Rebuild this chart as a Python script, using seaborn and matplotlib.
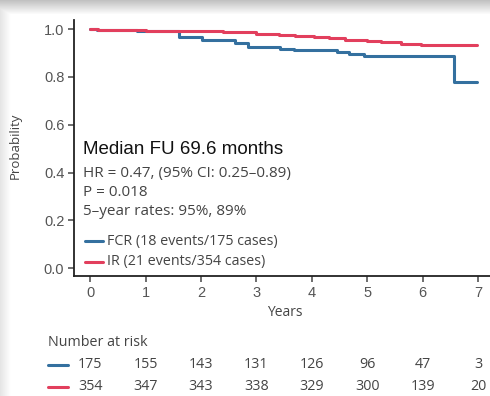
import numpy as np
import pandas as pd
import matplotlib
matplotlib.use("Agg")
import matplotlib.pyplot as plt
import matplotlib.transforms as mtransforms
from matplotlib.lines import Line2D
import seaborn as sns

# Kaplan-Meier step estimates (years, survival probability)
fcr_time = [0.0, 0.12, 0.85, 1.6, 2.02, 2.62, 2.84, 3.43, 3.67, 4.46, 4.67, 4.94, 6.56, 6.98]
fcr_surv = [1.0, 0.995, 0.99, 0.967, 0.954, 0.94, 0.926, 0.915, 0.911, 0.903, 0.897, 0.889, 0.78, 0.78]

ir_time = [0.0, 0.15, 1.0, 1.6, 2.4, 3.0, 3.4, 3.7, 4.03, 4.3, 4.6, 5.0, 5.24, 5.6, 5.97, 6.98]
ir_surv = [1.0, 0.997, 0.994, 0.99, 0.986, 0.981, 0.975, 0.971, 0.966, 0.961, 0.956, 0.951, 0.944, 0.938, 0.932, 0.932]

groups = ["FCR", "IR"]
group_colors = ["#34709f", "#e23f5d"]
legend_labels = ["FCR (18 events/175 cases)", "IR (21 events/354 cases)"]

risk_years = [0, 1, 2, 3, 4, 5, 6, 7]
risk_fcr = [175, 155, 143, 131, 126, 96, 47, 3]
risk_ir = [354, 347, 343, 338, 329, 300, 139, 20]

stats_title = "Median FU 69.6 months"
stats_lines = ["HR = 0.47, (95% CI: 0.25\u20130.89)", "P = 0.018", "5\u2013year rates: 95%, 89%"]

df = pd.concat([
    pd.DataFrame({"Years": fcr_time, "Probability": fcr_surv, "Arm": "FCR"}),
    pd.DataFrame({"Years": ir_time, "Probability": ir_surv, "Arm": "IR"}),
])

sns.set_theme(style="white")
plt.rcParams["font.family"] = ["Open Sans", "DejaVu Sans"]

W, H = 490, 396
fig = plt.figure(figsize=(W / 100, H / 100), dpi=100)

# soft grey frame along the top and left edges
bg = fig.add_axes([0, 0, 1, 1], zorder=-5)
yy = np.arange(H)[:, None]
xx = np.arange(W)[None, :]
top_shade = np.clip(1 - yy / 14.0, 0, 1) * 0.24
left_shade = np.clip(1 - xx / 10.0, 0, 1) * 0.10
shade = np.maximum(top_shade, left_shade)
img = np.ones((H, W, 3)) * (1 - shade)[..., None]
bg.imshow(img, aspect="auto", extent=[0, 1, 0, 1], interpolation="bilinear")
bg.axis("off")

ax = fig.add_axes([74 / W, 1 - 276 / H, 1 - 74 / W + 0.01, (276 - 20) / H])
ax.set_facecolor("none")

sns.lineplot(data=df, x="Years", y="Probability", hue="Arm", hue_order=groups,
             palette=group_colors, drawstyle="steps-post", estimator=None,
             linewidth=2.2, legend=False, ax=ax)

ax.set_xlim(-0.29, 7.3)
ax.set_ylim(-0.032, 1.038)
ax.set_xticks(risk_years)
ax.set_yticks([0.0, 0.2, 0.4, 0.6, 0.8, 1.0])
ax.set_yticklabels(["0.0", "0.2", "0.4", "0.6", "0.8", "1.0"])
for lab in ax.get_yticklabels() + ax.get_xticklabels():
    lab.set_fontfamily(["Liberation Sans", "DejaVu Sans"])
    lab.set_fontsize(10.5)
ax.tick_params(axis="both", colors="#555555", labelcolor="#555555", length=4, width=1.2,
               direction="out", left=True, bottom=True, pad=3)
for side in ["top", "right"]:
    ax.spines[side].set_visible(False)
for side in ["left", "bottom"]:
    ax.spines[side].set_color("#222222")
    ax.spines[side].set_linewidth(1.3)

ax.set_xlabel("Years", fontsize=10, color="#444444", labelpad=4)
ax.set_ylabel("Probability", fontsize=9.5, color="#444444")
ax.yaxis.set_label_coords(-0.124, 0.508)

# statistics block
fig.text(83 / W, 1 - 150 / H, stats_title, fontsize=13.5, color="#111111",
         family=["Liberation Sans", "DejaVu Sans"], va="center", ha="left")
for i, line in enumerate(stats_lines):
    fig.text(83 / W, 1 - (173 + 19 * i) / H, line, fontsize=11, color="#444444",
             va="center", ha="left")

# group key inside the plot
for i, (lab, col) in enumerate(zip(legend_labels, group_colors)):
    yc = 1 - (241 + 21 * i) / H
    fig.add_artist(Line2D([85 / W, 103 / W], [yc, yc], color=col, lw=2.2,
                          transform=fig.transFigure))
    fig.text(107 / W, yc, lab, fontsize=10.3, color="#444444", va="center", ha="left")

# number-at-risk table
fig.text(48 / W, 1 - 342 / H, "Number at risk", fontsize=10.3, color="#444444",
         va="center", ha="left")
trans = mtransforms.blended_transform_factory(ax.transData, fig.transFigure)
for row, (vals, col) in enumerate(zip([risk_fcr, risk_ir], group_colors)):
    yc = 1 - (365 + 22 * row) / H
    fig.add_artist(Line2D([48 / W, 68 / W], [yc, yc], color=col, lw=2.2,
                          transform=fig.transFigure))
    for yr, v in zip(risk_years, vals):
        fig.text(yr, yc, str(v), transform=trans, fontsize=10.3, color="#444444",
                 va="center", ha="center")

fig.savefig("out.png", dpi=100)
